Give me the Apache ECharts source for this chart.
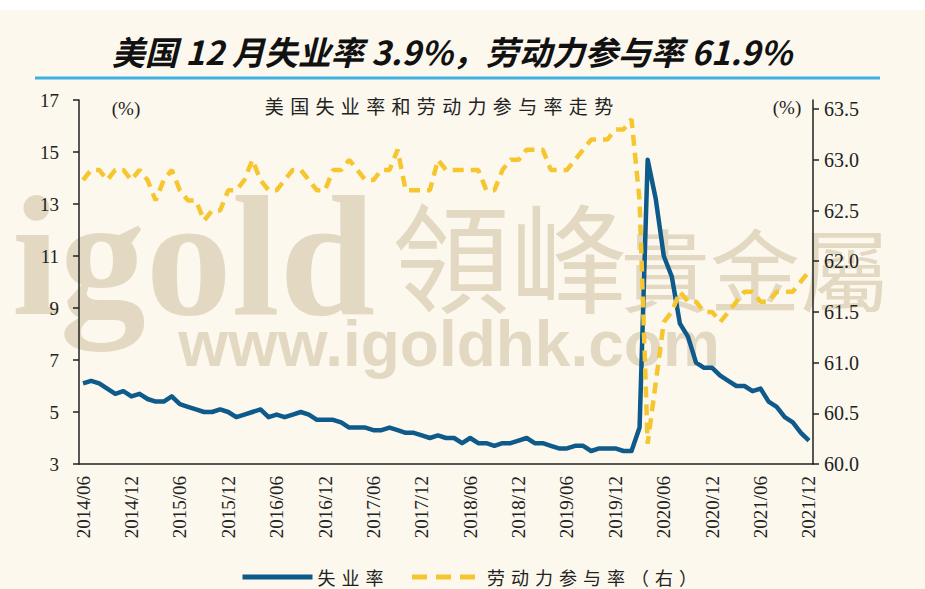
<!DOCTYPE html>
<html><head><meta charset="utf-8">
<script src="https://cdn.jsdelivr.net/npm/echarts@6/dist/echarts.min.js"></script>
<style>html,body{margin:0;padding:0;background:#fff}#c{width:925px;height:589px}</style>
</head><body><div id="c"></div><script>
const months = [
'2014/06','2014/07','2014/08','2014/09','2014/10','2014/11','2014/12',
'2015/01','2015/02','2015/03','2015/04','2015/05','2015/06','2015/07','2015/08','2015/09','2015/10','2015/11','2015/12',
'2016/01','2016/02','2016/03','2016/04','2016/05','2016/06','2016/07','2016/08','2016/09','2016/10','2016/11','2016/12',
'2017/01','2017/02','2017/03','2017/04','2017/05','2017/06','2017/07','2017/08','2017/09','2017/10','2017/11','2017/12',
'2018/01','2018/02','2018/03','2018/04','2018/05','2018/06','2018/07','2018/08','2018/09','2018/10','2018/11','2018/12',
'2019/01','2019/02','2019/03','2019/04','2019/05','2019/06','2019/07','2019/08','2019/09','2019/10','2019/11','2019/12',
'2020/01','2020/02','2020/03','2020/04','2020/05','2020/06','2020/07','2020/08','2020/09','2020/10','2020/11','2020/12',
'2021/01','2021/02','2021/03','2021/04','2021/05','2021/06','2021/07','2021/08','2021/09','2021/10','2021/11','2021/12'];

// 失业率 (%), left axis
const unemployment = [
6.1,6.2,6.1,5.9,5.7,5.8,5.6,
5.7,5.5,5.4,5.4,5.6,5.3,5.2,5.1,5.0,5.0,5.1,5.0,
4.8,4.9,5.0,5.1,4.8,4.9,4.8,4.9,5.0,4.9,4.7,4.7,
4.7,4.6,4.4,4.4,4.4,4.3,4.3,4.4,4.3,4.2,4.2,4.1,
4.0,4.1,4.0,4.0,3.8,4.0,3.8,3.8,3.7,3.8,3.8,3.9,
4.0,3.8,3.8,3.7,3.6,3.6,3.7,3.7,3.5,3.6,3.6,3.6,
3.5,3.5,4.4,14.7,13.2,11.0,10.2,8.4,7.9,6.9,6.7,6.7,
6.4,6.2,6.0,6.0,5.8,5.9,5.4,5.2,4.8,4.6,4.2,3.9];

// 劳动力参与率 (%), right axis
const participation = [
62.8,62.9,62.9,62.8,62.9,62.9,62.8,
62.9,62.8,62.6,62.8,62.9,62.7,62.6,62.6,62.4,62.5,62.5,62.7,
62.7,62.8,63.0,62.8,62.7,62.7,62.8,62.9,62.9,62.8,62.7,62.7,
62.9,62.9,63.0,62.9,62.8,62.8,62.9,62.9,63.1,62.7,62.7,62.7,
62.7,63.0,62.9,62.9,62.9,62.9,62.9,62.7,62.7,62.9,63.0,63.0,
63.1,63.1,63.1,62.9,62.9,62.9,63.0,63.1,63.2,63.2,63.2,63.3,
63.3,63.4,62.6,60.2,60.8,61.4,61.5,61.7,61.6,61.6,61.5,61.5,
61.4,61.5,61.6,61.7,61.7,61.6,61.6,61.7,61.7,61.7,61.8,61.9];

const leftTicks = [3,5,7,9,11,13,15,17];
const rightTicks = [60.0,60.5,61.0,61.5,62.0,62.5,63.0,63.5];

const mainTitle = '美国 12 月失业率 3.9%，劳动力参与率 61.9%';
const subTitle = '美国失业率和劳动力参与率走势';
const seriesNames = ['失业率','劳动力参与率（右）'];
const unitLabel = '(%)';

const spaced = s => s.split('').join('\u2004');
const serif = "'Liberation Serif','Times New Roman',serif";
const cjk = "'Noto Sans CJK SC',sans-serif";
const wm = 'rgba(190,170,128,0.40)';

const chart = echarts.init(document.getElementById('c'), null, {renderer: 'svg'});
chart.setOption({
  backgroundColor: 'transparent',
  animation: false,
  graphic: [
    {type:'rect', z:-10, shape:{x:0,y:10,width:925,height:579}, style:{fill:'#fcf8ee'}},
    {type:'text', z:-5, style:{text:'igold', x:12, y:256, font:"bold 172px 'Liberation Serif',serif", fill:wm, textVerticalAlign:'middle'}},
    {type:'text', z:-5, style:{text:'領峰', x:392, y:252, font:"118px 'Noto Sans CJK TC',sans-serif", fill:wm, textVerticalAlign:'middle'}},
    {type:'text', z:-5, style:{text:'貴金屬', x:620, y:266, font:"90px 'Noto Sans CJK TC',sans-serif", fill:wm, textVerticalAlign:'middle'}},
    {type:'text', z:-5, style:{text:'www.igoldhk.com', x:449, y:344, font:"bold 64px 'Liberation Sans',sans-serif", fill:wm, textAlign:'center', textVerticalAlign:'middle'}},
    {type:'line', z:1, shape:{x1:35,y1:78,x2:880,y2:78}, style:{stroke:'#3fb0e0', lineWidth:3}},
    {type:'text', z:5, style:{text:mainTitle, x:452, y:51, font:"italic bold 33px 'Liberation Sans Narrow','Noto Sans CJK SC',sans-serif", fill:'#111', textAlign:'center', textVerticalAlign:'middle'}},
    {type:'text', z:5, style:{text:spaced(subTitle), x:439, y:105, font:"19px 'Noto Sans CJK SC',sans-serif", fill:'#222', textAlign:'center', textVerticalAlign:'middle'}},
    {type:'text', z:5, style:{text:unitLabel, x:126, y:108, font:"19px "+serif, fill:'#222', textAlign:'center', textVerticalAlign:'middle'}},
    {type:'text', z:5, style:{text:unitLabel, x:787, y:107, font:"19px "+serif, fill:'#222', textAlign:'center', textVerticalAlign:'middle'}}
  ],
  legend: {
    left: 235, top: 562, itemWidth: 70, itemHeight: 14, itemGap: 26,
    data: [
      {name: seriesNames[0]},
      {name: seriesNames[1], lineStyle: {type: [15, 9], width: 5}}
    ],
    formatter: n => spaced(n),
    itemStyle: {opacity: 0},
    lineStyle: {opacity: 1, width: 5},
    textStyle: {fontSize: 18, fontFamily: cjk, color: '#222', lineHeight: 20}
  },
  grid: {left: 79, right: 112, top: 100, bottom: 125, containLabel: false},
  xAxis: {
    type: 'category', data: months, boundaryGap: true,
    axisLine: {lineStyle: {color: '#222', width: 1.5}},
    axisTick: {interval: 5, length: 6, lineStyle: {color: '#222', width: 1.5}},
    axisLabel: {interval: 5, rotate: 90, margin: 12, fontSize: 19, fontFamily: serif, color: '#222'},
    splitLine: {show: false}
  },
  yAxis: [
    {type: 'value', min: leftTicks[0], max: leftTicks[leftTicks.length-1], interval: 2, position: 'left',
     axisLine: {show: true, lineStyle: {color: '#222', width: 1.5}},
     axisTick: {show: true, length: 6, lineStyle: {color: '#222', width: 1.5}},
     axisLabel: {margin: 20, fontSize: 19, fontFamily: serif, color: '#222'},
     splitLine: {show: false}},
    {type: 'value', min: rightTicks[0], max: 63.59, position: 'right',
     axisLine: {show: true, lineStyle: {color: '#222', width: 1.5}},
     axisTick: {show: true, length: 6, customValues: rightTicks, lineStyle: {color: '#222', width: 1.5}},
     axisLabel: {margin: 11, fontSize: 20, fontFamily: serif, color: '#222', customValues: rightTicks, formatter: v => v.toFixed(1)},
     splitLine: {show: false}}
  ],
  series: [
    {name: seriesNames[0], type: 'line', yAxisIndex: 0, data: unemployment, symbol: 'none', z: 3,
     lineStyle: {color: '#0d5a8b', width: 4.5, join: 'round'}, itemStyle: {color: '#0d5a8b'}},
    {name: seriesNames[1], type: 'line', yAxisIndex: 1, data: participation, symbol: 'none', z: 4,
     lineStyle: {color: '#f6c631', width: 4.5, type: [11, 7]}, itemStyle: {color: '#f6c631'}}
  ]
});
</script></body></html>
